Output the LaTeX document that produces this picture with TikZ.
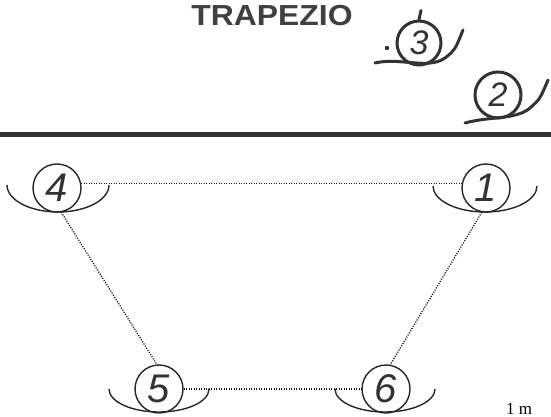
\documentclass[tikz,border=0pt]{standalone}
\usepackage{fontspec}
\setmainfont{Liberation Sans}
\newfontfamily\serifface{Liberation Serif}
\begin{document}
\begin{tikzpicture}[x=1pt,y=-1pt,
  ink/.style={draw=black!85, line width=1.4pt},
  station/.style={circle, ink, minimum size=48pt, inner sep=0pt,
    font=\fontsize{40}{40}\selectfont\itshape, text=black!80},
  cup/.style={ink},
  dotline/.style={draw=black!90, line width=1.3pt, dash pattern=on 1.1pt off 1.4pt},
  handcircle/.style={circle, draw=black!80, line width=3pt, minimum size=44pt, inner sep=0pt,
    font=\fontsize{34}{34}\selectfont\itshape, text=black!80},
  handline/.style={draw=black!80, line width=3pt, line cap=round}]
\useasboundingbox (0,0) rectangle (551,417);
\clip (0,0) rectangle (551,417);
% title
\node[font=\fontsize{29}{29}\selectfont\bfseries, text=black!75, xscale=1.1] (title) at (272,16) {TRAPEZIO};
% separator bar
\fill[black!80] (0,132) rectangle (551,137);
% handwritten marks
\node[handcircle] (h3) at (419,43) {3};
\draw[handline] (375,63) .. controls (400,57) and (428,70) .. (445,58) .. controls (455,50) .. (463,30);
\fill[black!80] (387,48) circle[radius=2.2pt];
\draw[handline] (h3.north) -- ++(2,-9);
\node[handcircle, minimum size=46pt] (h2) at (498,95) {2};
\draw[handline] (465,123) .. controls (490,116) and (516,120) .. (530,108) .. controls (540,99) .. (548,80);
% stations
\node[station] (n4) at (57,188) {4};
\node[station] (n1) at (486,188) {1};
\node[station] (n5) at (159,389) {5};
\node[station] (n6) at (386,389) {6};
% cups
\draw[cup] (109,185) arc[start angle=0, end angle=180, x radius=51, y radius=27];
\draw[cup] (537,186) arc[start angle=0, end angle=180, x radius=52, y radius=26];
\draw[cup] (209,389) arc[start angle=0, end angle=180, x radius=50, y radius=23];
\draw[cup] (435,389) arc[start angle=0, end angle=180, x radius=50, y radius=23];
% connectors
\draw[dotline] (n4.10) -- (n1.170);
\draw[dotline] (n5.east) -- (n6.west);
\draw[dotline] (n4.-80) -- (n5.95);
\draw[dotline] (n1.-100) -- (n6.80);
% scale text at the lower edge
\node[anchor=base west, inner sep=0pt, font=\serifface\fontsize{17}{17}\selectfont] (scale) at (506,414) {1 m};
\end{tikzpicture}
\end{document}
